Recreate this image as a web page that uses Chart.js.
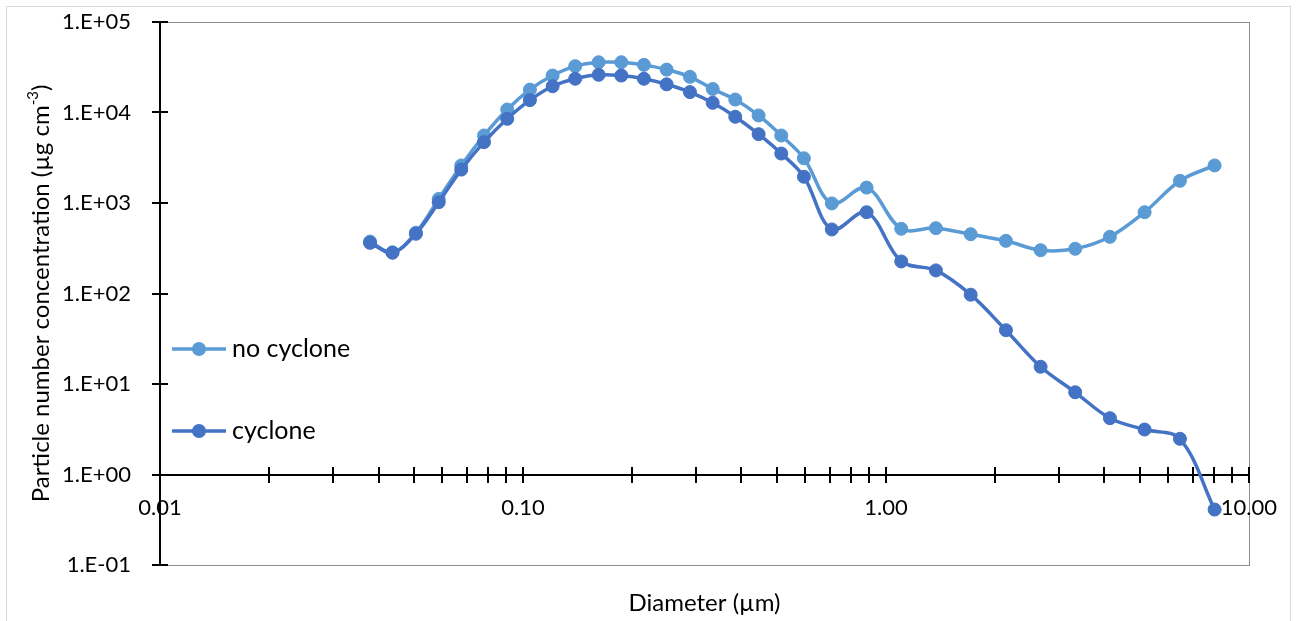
<!DOCTYPE html>
<html>
<head>
<meta charset="utf-8">
<script src="https://cdn.jsdelivr.net/npm/chart.js@4.4.1/dist/chart.umd.min.js"></script>
<style>
  html, body { margin: 0; padding: 0; background: #fff; }
  #wrap { width: 1297px; height: 621px; position: relative; }
</style>
</head>
<body>
<div id="wrap"><canvas id="chart" width="1297" height="621"></canvas></div>
<script>
// Diameter (µm)
const diameters = [
  0.0379, 0.0437, 0.0507, 0.0586, 0.0676, 0.0781, 0.0905, 0.1045, 0.1207, 0.1393,
  0.1616, 0.1866, 0.2154, 0.2488, 0.2884, 0.3332, 0.3845, 0.4459, 0.5148, 0.5943,
  0.7095, 0.8846, 1.102, 1.373, 1.712, 2.141, 2.668, 3.323, 4.141, 5.161, 6.457, 8.046
];

const noCyclone = [
  375, 285, 470, 1110, 2600, 5570, 10800, 17900, 25600, 32500,
  35900, 35900, 33600, 29800, 24800, 18200, 13900, 9270, 5570, 3120,
  990, 1480, 519, 527, 452, 382, 301, 312, 423, 791, 1760, 2600
];

const cyclone = [
  363, 282, 457, 1020, 2340, 4700, 8520, 13700, 19500, 23600,
  26100, 25600, 23600, 20500, 16800, 12800, 8970, 5760, 3520, 1950,
  510, 791, 226, 180, 97, 39.3, 15.5, 8.1, 4.19, 3.14, 2.48, 0.41
];

const seriesLabels = ['no cyclone', 'cyclone'];
const seriesColors = ['#5B9BD5', '#4472C4'];

// axis ticks
const xDecades = [0.01, 0.1, 1, 10];
const yDecades = [0.1, 1, 10, 100, 1000, 10000, 100000];

const FONT = 'Lato, "Noto Sans", sans-serif';

// minor ticks 2..9 in every decade
const xTicks = [];
xDecades.forEach((d, i) => {
  if (i === xDecades.length - 1) { xTicks.push(d); return; }
  for (let k = 1; k < 10; k++) xTicks.push(+(d * k).toPrecision(3));
});

const isDecade = (v) => {
  const l = Math.log10(v);
  return Math.abs(l - Math.round(l)) < 1e-6;
};

const framePlugin = {
  id: 'frame',
  beforeDraw(chart) {
    const { ctx, chartArea: a } = chart;
    ctx.save();
    ctx.fillStyle = '#fff';
    ctx.fillRect(0, 0, chart.width, chart.height);
    // outer border
    ctx.strokeStyle = '#d9d9d9';
    ctx.lineWidth = 1;
    ctx.strokeRect(6.5, 6.5, chart.width - 13, chart.height + 10);
    // plot area border
    ctx.strokeStyle = '#8c8c8c';
    ctx.strokeRect(Math.round(a.left) + 0.5, Math.round(a.top) + 0.5,
      Math.round(a.right - a.left), Math.round(a.bottom - a.top));
    ctx.restore();
  },
  afterDraw(chart) {
    const { ctx, chartArea: a, scales: { x, y } } = chart;
    ctx.save();

    // crossing tick marks
    ctx.strokeStyle = '#000';
    ctx.lineWidth = 2;
    const axisY = Math.round(y.getPixelForValue(1));
    xTicks.forEach(v => {
      const px = Math.round(x.getPixelForValue(v));
      ctx.beginPath();
      ctx.moveTo(px, axisY - 8);
      ctx.lineTo(px, axisY + 8);
      ctx.stroke();
    });
    const axisX = Math.round(a.left);
    yDecades.forEach(v => {
      const py = Math.round(y.getPixelForValue(v));
      ctx.beginPath();
      ctx.moveTo(axisX - 8, py);
      ctx.lineTo(axisX + 8, py);
      ctx.stroke();
    });

    // legend
    const legendY = [349, 431];
    chart.data.datasets.forEach((ds, i) => {
      const ly = legendY[i];
      ctx.strokeStyle = ds.borderColor;
      ctx.lineWidth = 3.5;
      ctx.beginPath();
      ctx.moveTo(172, ly);
      ctx.lineTo(226, ly);
      ctx.stroke();
      ctx.fillStyle = ds.backgroundColor;
      ctx.beginPath();
      ctx.arc(199, ly, 7, 0, Math.PI * 2);
      ctx.fill();
      ctx.fillStyle = '#000';
      ctx.font = '25px ' + FONT;
      ctx.textBaseline = 'middle';
      ctx.textAlign = 'left';
      ctx.fillText(ds.label, 232, ly);
    });

    // x title
    ctx.fillStyle = '#000';
    ctx.font = '24px ' + FONT;
    ctx.textAlign = 'center';
    ctx.textBaseline = 'middle';
    ctx.fillText('Diameter (\u00b5m)', (a.left + a.right) / 2, 603);

    // y title with superscript
    ctx.translate(41, (a.top + a.bottom) / 2);
    ctx.rotate(-Math.PI / 2);
    const main = 'Particle number concentration (\u00b5g cm';
    const sup = '-3';
    const tail = ')';
    const big = '24px ' + FONT;
    const small = '15px ' + FONT;
    ctx.font = big;
    const w1 = ctx.measureText(main).width;
    const w3 = ctx.measureText(tail).width;
    ctx.font = small;
    const w2 = ctx.measureText(sup).width;
    let sx = -(w1 + w2 + w3) / 2;
    ctx.textAlign = 'left';
    ctx.textBaseline = 'middle';
    ctx.font = big;
    ctx.fillText(main, sx, 0);
    sx += w1;
    ctx.font = small;
    ctx.fillText(sup, sx, -8);
    sx += w2;
    ctx.font = big;
    ctx.fillText(tail, sx, 0);
    ctx.restore();
  }
};

new Chart(document.getElementById('chart'), {
  type: 'line',
  data: {
    datasets: [
      {
        label: seriesLabels[0],
        data: diameters.map((d, i) => ({ x: d, y: noCyclone[i] })),
        borderColor: seriesColors[0],
        backgroundColor: seriesColors[0],
        borderWidth: 3.5,
        pointRadius: 6.5,
        pointBorderWidth: 1,
        pointBorderColor: seriesColors[0],
        tension: 0.35,
        order: 2
      },
      {
        label: seriesLabels[1],
        data: diameters.map((d, i) => ({ x: d, y: cyclone[i] })),
        borderColor: seriesColors[1],
        backgroundColor: seriesColors[1],
        borderWidth: 3.5,
        pointRadius: 6.5,
        pointBorderWidth: 1,
        pointBorderColor: seriesColors[1],
        tension: 0.35,
        order: 1
      }
    ]
  },
  options: {
    responsive: false,
    animation: false,
    layout: { padding: { left: 0, top: 22, right: 48, bottom: 56 } },
    plugins: {
      legend: { display: false },
      tooltip: { enabled: false }
    },
    scales: {
      x: {
        type: 'logarithmic',
        position: { y: 1 },
        min: 0.01,
        max: 10,
        afterFit: (s) => { s.height = 0; },
        afterBuildTicks: (s) => { s.ticks = xTicks.map(v => ({ value: v })); },
        grid: { drawOnChartArea: false, drawTicks: false },
        border: { display: true, color: '#000', width: 2 },
        ticks: {
          autoSkip: false,
          maxRotation: 0,
          padding: 20,
          color: '#000',
          font: { family: FONT, size: 22 },
          callback: (v) => isDecade(v) ? v.toFixed(2) : ''
        }
      },
      y: {
        type: 'logarithmic',
        min: 0.1,
        max: 100000,
        afterFit: (s) => { s.width = 160; s.paddingTop = 0; s.paddingBottom = 0; },
        afterBuildTicks: (s) => { s.ticks = yDecades.map(v => ({ value: v })); },
        grid: { drawOnChartArea: false, drawTicks: false },
        border: { display: true, color: '#000', width: 2 },
        ticks: {
          autoSkip: false,
          padding: 29,
          color: '#000',
          font: { family: FONT, size: 22 },
          callback: (v) => {
            const e = Math.round(Math.log10(v));
            return '1.E' + (e < 0 ? '-' : '+') + String(Math.abs(e)).padStart(2, '0');
          }
        }
      }
    }
  },
  plugins: [framePlugin]
});
</script>
</body>
</html>
